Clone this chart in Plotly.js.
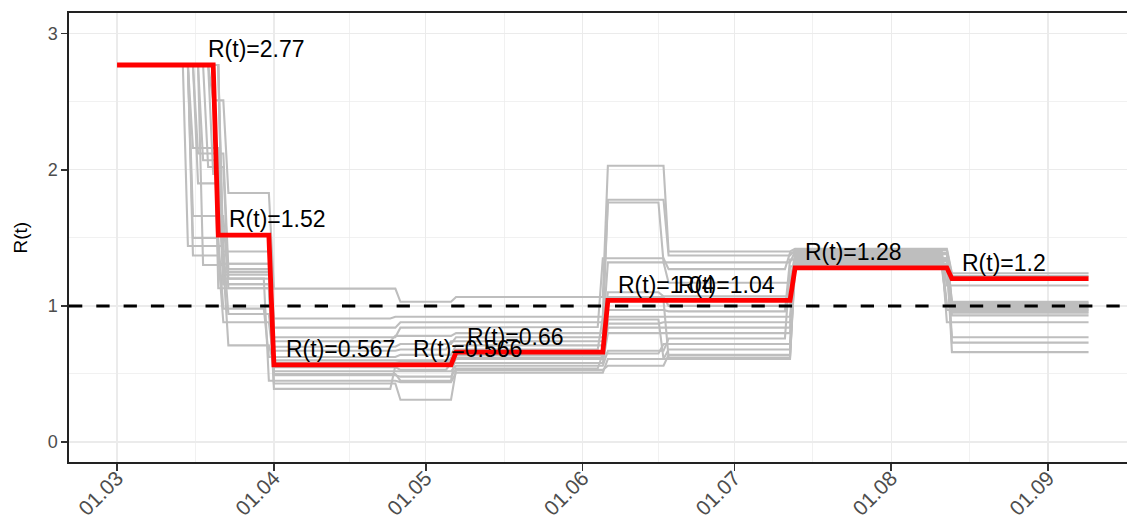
<!DOCTYPE html>
<html><head><meta charset="utf-8">
<script src="https://cdn.plot.ly/plotly-3.0.1.min.js"></script>
<style>html,body{margin:0;padding:0;background:#fff}#chart{width:1127px;height:526px}</style>
</head><body><div id="chart"></div>
<script>
// ---------- data ----------
const startDate = '2020-03-01';
const endDay = 192;                       // last day of the series (days after startDate)
const threshold = 1;                      // R(t) = 1 reference line

// estimated R(t): segment start days (days after startDate) and values
const estStartDays = [0, 20, 31, 56, 67, 97, 109, 134, 165];
const estValues    = [2.77, 1.52, 0.567, 0.566, 0.66, 1.04, 1.04, 1.28, 1.2];

// labels
const labelTexts = ['R(t)=2.77','R(t)=1.52','R(t)=0.567','R(t)=0.566','R(t)=0.66','R(t)=1.04','R(t)=1.04','R(t)=1.28','R(t)=1.2'];
const labelDates = ['2020-03-28 11:00','2020-04-01 17:00','2020-04-14 05:00','2020-05-09 04:00','2020-05-18 18:00','2020-06-17 14:00','2020-06-29 11:00','2020-07-24 11:00','2020-08-23 05:00'];
const labelValues = [2.77, 1.52, 0.567, 0.566, 0.66, 1.04, 1.04, 1.28, 1.2];

// posterior samples: segment start days and values
const sampleStartDays = [
  [0,19,22,31,56,67,97,109,134,165],
  [0,15,21,31,55,67,97,109,134,165],
  [0,16,22,31,56,66,97,108,134,164],
  [0,17,21,31,56,67,96,109,133,165],
  [0,18,22,31,55,67,97,109,134,165],
  [0,19,21,31,56,67,97,108,134,164],
  [0,15,22,31,56,66,97,109,134,165],
  [0,15,21,30,56,67,97,109,133,165],
  [0,14,22,31,55,67,96,109,134,165],
  [0,15,21,31,56,67,97,108,134,164],
  [0,17,22,31,56,67,97,109,134,165],
  [0,20,21,31,56,66,97,109,134,165],
  [0,21,22,31,55,67,97,109,133,165],
  [0,20,21,31,56,67,96,108,134,164],
  [0,21,22,30,56,67,97,109,134,165],
  [0,21,22,31,56,67,97,109,134,165],
  [0,20,22,31,55,66,97,108,134,165],
  [0,16,21,31,56,67,97,109,134,164]
];
const sampleValues = [
  [2.77,2.51,1.83,1.127,1.03,1.065,2.03,1.40,1.42,1.24],
  [2.77,2.16,1.31,0.907,0.92,0.92,1.78,1.37,1.41,1.22],
  [2.77,2.12,1.27,0.84,0.88,0.88,1.76,1.32,1.40,1.15],
  [2.77,2.07,1.23,0.77,0.84,0.845,1.35,1.27,1.39,1.03],
  [2.77,2.02,1.20,0.74,0.78,0.80,1.32,1.17,1.38,1.02],
  [2.77,1.97,1.16,0.70,0.72,0.77,1.10,1.07,1.36,1.01],
  [2.77,1.66,1.13,0.67,0.68,0.74,1.065,1.00,1.35,1.00],
  [2.77,1.50,0.98,0.625,0.64,0.71,0.97,0.96,1.34,0.99],
  [2.77,1.44,0.94,0.60,0.60,0.68,0.92,0.92,1.33,0.98],
  [2.77,1.37,0.88,0.58,0.59,0.64,0.87,0.88,1.32,0.97],
  [2.77,1.30,0.71,0.567,0.566,0.61,0.84,0.84,1.31,0.96],
  [2.77,1.52,1.52,0.55,0.53,0.58,0.80,0.80,1.30,0.95],
  [2.77,1.40,1.40,0.52,0.52,0.56,0.67,0.76,1.29,0.93],
  [2.77,1.31,1.31,0.49,0.48,0.54,0.65,0.72,1.37,0.88],
  [2.77,1.20,1.20,0.45,0.44,0.51,0.61,0.68,1.33,0.77],
  [2.77,1.16,1.16,0.43,0.31,0.53,0.56,0.64,1.31,0.73],
  [2.77,1.13,1.13,0.39,0.56,0.62,0.90,0.61,1.35,0.66],
  [2.77,1.90,1.25,0.50,0.45,0.66,1.04,0.62,1.28,1.00]
];

// axis
const xRange = ['2020-02-20 12:00', '2020-09-16 14:24'];
const yRange = [-0.147, 3.152];
const xTickVals = ['2020-03-01','2020-04-01','2020-05-01','2020-06-01','2020-07-01','2020-08-01','2020-09-01'];
const xTickText = ['01.03','01.04','01.05','01.06','01.07','01.08','01.09'];
const xMinorVals = ['2020-03-16 12:00','2020-04-16','2020-05-16 12:00','2020-06-16','2020-07-16 12:00','2020-08-16 12:00'];
const yTickVals = [0, 1, 2, 3];
const yMinorVals = [0.5, 1.5, 2.5];

// ---------- build ----------
const t0 = Date.UTC(2020, 2, 1);
function dayToDate(d) {
  const dt = new Date(t0 + d * 86400000);
  return dt.toISOString().slice(0, 10);
}
function stepXY(starts, vals) {
  const x = [], y = [];
  for (let k = 0; k < starts.length; k++) {
    const s = starts[k];
    const e = (k + 1 < starts.length) ? starts[k + 1] - 1 : endDay;
    x.push(dayToDate(s)); y.push(vals[k]);
    if (e > s) { x.push(dayToDate(e)); y.push(vals[k]); }
  }
  return {x, y};
}

const traces = [];
sampleStartDays.forEach((starts, i) => {
  const p = stepXY(starts, sampleValues[i]);
  traces.push({type:'scatter', mode:'lines', x:p.x, y:p.y,
    line:{color:'#BEBEBE', width:2.1}, hoverinfo:'skip', showlegend:false});
});
traces.push({type:'scatter', mode:'lines', x:xRange, y:[threshold, threshold],
  line:{color:'#000000', width:3, dash:'13.3px,14px'}, hoverinfo:'skip', showlegend:false});
const est = stepXY(estStartDays, estValues);
traces.push({type:'scatter', mode:'lines', x:est.x, y:est.y,
  line:{color:'#FF0000', width:4.8}, hoverinfo:'skip', showlegend:false});

const labelOffset = 0.115;
const annotations = labelTexts.map((t, i) => ({
  x: labelDates[i], y: labelValues[i] + labelOffset, xref:'x', yref:'y',
  text: t, showarrow:false, xanchor:'center', yanchor:'middle',
  font:{family:'Liberation Sans, Arial, sans-serif', size:23, color:'#000000'}
}));
annotations.push({
  xref:'paper', yref:'paper', x:-0.0463, y:0.5, text:'R(t)', textangle:-90,
  showarrow:false, xanchor:'center', yanchor:'middle',
  font:{family:'Liberation Sans, Arial, sans-serif', size:19, color:'#000000'}
});

const layout = {
  width:1127, height:526,
  margin:{l:69, r:0, t:13, b:64, pad:0},
  paper_bgcolor:'#FFFFFF', plot_bgcolor:'#FFFFFF',
  font:{family:'Liberation Sans, Arial, sans-serif'},
  showlegend:false,
  xaxis:{
    type:'date', range:xRange, tickmode:'array', tickvals:xTickVals, ticktext:xTickText,
    tickangle:-45, ticks:'outside', ticklen:7, tickwidth:1.6, tickcolor:'#333333',
    tickfont:{size:21, color:'#4D4D4D'}, ticklabelstandoff:-13,
    showline:true, mirror:true, linecolor:'#222222', linewidth:1.6,
    showgrid:true, gridcolor:'#EBEBEB', gridwidth:1.4, zeroline:false,
    minor:{tickmode:'array', tickvals:xMinorVals, showgrid:true, gridcolor:'#EBEBEB', gridwidth:0.7, ticks:''}
  },
  yaxis:{
    range:yRange, tickmode:'array', tickvals:yTickVals, ticktext:yTickVals.map(String),
    ticks:'outside', ticklen:6, tickwidth:1.6, tickcolor:'#333333',
    tickfont:{size:18, color:'#4D4D4D'},
    showline:true, mirror:false, linecolor:'#222222', linewidth:1.6,
    showgrid:true, gridcolor:'#EBEBEB', gridwidth:1.4, zeroline:false,
    minor:{tickmode:'array', tickvals:yMinorVals, showgrid:true, gridcolor:'#EBEBEB', gridwidth:0.7, ticks:''}
  },
  annotations: annotations
};

Plotly.newPlot('chart', traces, layout, {displayModeBar:false, staticPlot:true});
</script>
</body></html>
